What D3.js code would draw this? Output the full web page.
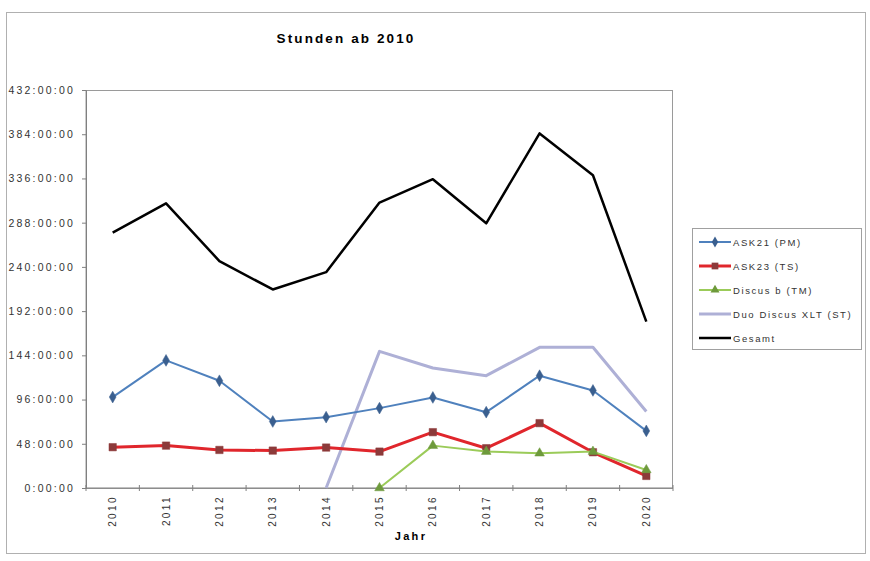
<!DOCTYPE html>
<html><head><meta charset="utf-8">
<script src="https://cdn.jsdelivr.net/npm/d3@7"></script>
<style>body{margin:0;background:#fff}svg{display:block}text{font-family:"Liberation Sans",Arial,sans-serif}</style>
</head><body>
<svg id="c" width="870" height="561"></svg>
<script>
const years = ["2010","2011","2012","2013","2014","2015","2016","2017","2018","2019","2020"];
const ask21 = [98.7,138.5,116.4,72.2,76.9,86.7,98.3,82.3,121.9,105.9,62];
const ask23 = [44.3,46,41.3,40.6,43.9,39.5,60.6,43.2,70.4,38.8,13.1];
const discusB = [null,null,null,null,null,0,46,39.5,37.7,39.5,19.6];
const duoDiscus = [null,null,null,null,0,148.3,130.2,121.9,152.7,152.7,83];
const gesamt = [277.2,309,246.3,215.5,234.3,309.8,335.2,287.3,384.9,339.5,180.6];
const yTicks = [0,48,96,144,192,240,288,336,384,432];
const seriesNames = ["ASK21 (PM)","ASK23 (TS)","Discus b (TM)","Duo Discus XLT (ST)","Gesamt"];

const series = [
  {name:seriesNames[0], values:ask21, color:"#4F81BD", width:2, marker:"diamond", mcolor:"#3A5F8F"},
  {name:seriesNames[1], values:ask23, color:"#E0262C", width:3, marker:"square", mcolor:"#8C3A3A"},
  {name:seriesNames[2], values:discusB, color:"#9BCB59", width:2, marker:"triangle", mcolor:"#6E9A3C"},
  {name:seriesNames[3], values:duoDiscus, color:"#AEB0D6", width:3, marker:null},
  {name:seriesNames[4], values:gesamt, color:"#000000", width:2.5, marker:null}
];

const svg = d3.select("#c");
svg.append("rect").attr("x",6.5).attr("y",12.5).attr("width",859).attr("height",541)
  .attr("fill","none").attr("stroke","#b0b0b0").attr("stroke-width",1);

const L=86, R=673, T=90, B=488;
const x = d3.scaleBand().domain(years).range([L,R]);
const y = d3.scaleLinear().domain([0,432]).range([B,T]);

svg.append("rect").attr("x",L).attr("y",T+0.5).attr("width",R-L-0.5).attr("height",B-T)
  .attr("fill","none").attr("stroke","#9a9a9a").attr("stroke-width",1);

const fmt = v => v + ":00:00";
const yAxis = svg.append("g").attr("transform",`translate(${L},0)`)
  .call(d3.axisLeft(y).tickValues(yTicks).tickFormat(fmt).tickSize(4).tickPadding(7));
yAxis.select(".domain").attr("stroke","#808080");
yAxis.selectAll(".tick line").attr("stroke","#808080");
yAxis.selectAll("text").attr("font-size",10.5).attr("letter-spacing",2.2).attr("fill","#333");

const xg = svg.append("g").attr("transform",`translate(0,${B})`);
xg.append("line").attr("x1",L).attr("x2",R).attr("stroke","#808080");
const bounds = years.map(d=>x(d)).concat([R]);
xg.selectAll("line.tk").data(bounds).join("line").attr("class","tk")
  .attr("x1",d=>d).attr("x2",d=>d).attr("y1",-3).attr("y2",3).attr("stroke","#808080");
xg.selectAll("text").data(years).join("text")
  .attr("transform",d=>`translate(${x(d)+x.bandwidth()/2+3.5},7) rotate(-90)`)
  .attr("text-anchor","end").attr("font-size",10).attr("letter-spacing",2.4).attr("fill","#333").text(d=>d);

svg.append("text").attr("x",346).attr("y",43).attr("text-anchor","middle")
  .attr("font-size",13.5).attr("letter-spacing",2.1).attr("font-weight","bold").text("Stunden ab 2010");
svg.append("text").attr("x",411).attr("y",540).attr("text-anchor","middle")
  .attr("font-size",11).attr("letter-spacing",2.3).attr("font-weight","bold").text("Jahr");

const cx = d => x(d)+x.bandwidth()/2;
function markerPath(type, s){
  if(type==="diamond") return d3.symbol().type(d3.symbolDiamond).size(s)();
  if(type==="square") return d3.symbol().type(d3.symbolSquare).size(s)();
  if(type==="triangle") return d3.symbol().type(d3.symbolTriangle).size(s)();
  return null;
}
const drawOrder = [3,0,1,2,4];
drawOrder.forEach(i=>{
  const s = series[i];
  const pts = years.map((yr,j)=>({yr,v:s.values[j]})).filter(p=>p.v!==null);
  const line = d3.line().x(p=>cx(p.yr)).y(p=>y(p.v));
  svg.append("path").datum(pts).attr("d",line).attr("fill","none")
    .attr("stroke",s.color).attr("stroke-width",s.width).attr("stroke-linejoin","round");
  if(s.marker){
    svg.selectAll(null).data(pts).join("path")
      .attr("d",markerPath(s.marker, s.marker==="square"?55:40))
      .attr("transform",p=>`translate(${cx(p.yr)},${y(p.v)})`)
      .attr("fill",s.mcolor).attr("stroke",s.mcolor).attr("stroke-width",0.5);
  }
});

const lg = svg.append("g");
lg.append("rect").attr("x",692.5).attr("y",228.5).attr("width",169).attr("height",121)
  .attr("fill","#fff").attr("stroke","#a0a0a0");
series.forEach((s,i)=>{
  const yy = 242 + i*24;
  lg.append("line").attr("x1",699).attr("x2",731).attr("y1",yy).attr("y2",yy)
    .attr("stroke",s.color).attr("stroke-width",s.width);
  if(s.marker){
    lg.append("path").attr("d",markerPath(s.marker, s.marker==="square"?45:35))
      .attr("transform",`translate(715,${yy})`).attr("fill",s.mcolor);
  }
  lg.append("text").attr("x",733).attr("y",yy+3.5).attr("font-size",9.5).attr("letter-spacing",1.6).attr("fill","#333").text(s.name);
});
</script>
</body></html>
